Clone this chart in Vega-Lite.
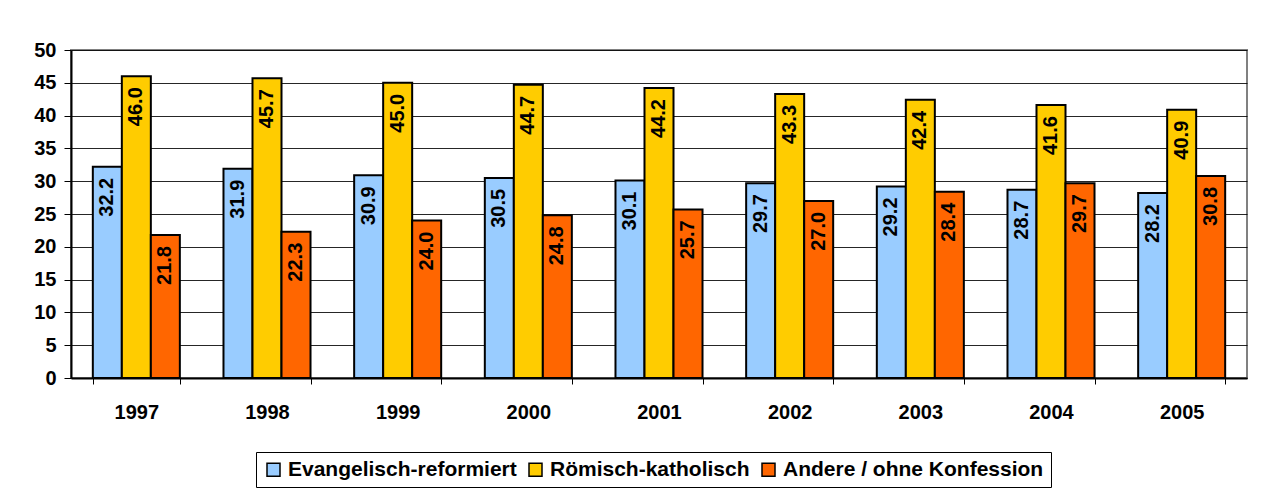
{
  "$schema": "https://vega.github.io/schema/vega-lite/v6.json",
  "width": 1176,
  "height": 328,
  "autosize": "none",
  "padding": {"left": 71, "top": 50, "right": 18, "bottom": 111},
  "background": "white",
  "data": {
    "values": [
      {"Jahr": "1997", "Gruppe": "Evangelisch-reformiert", "Wert": 32.2},
      {"Jahr": "1997", "Gruppe": "Römisch-katholisch", "Wert": 46.0},
      {"Jahr": "1997", "Gruppe": "Andere / ohne Konfession", "Wert": 21.8},
      {"Jahr": "1998", "Gruppe": "Evangelisch-reformiert", "Wert": 31.9},
      {"Jahr": "1998", "Gruppe": "Römisch-katholisch", "Wert": 45.7},
      {"Jahr": "1998", "Gruppe": "Andere / ohne Konfession", "Wert": 22.3},
      {"Jahr": "1999", "Gruppe": "Evangelisch-reformiert", "Wert": 30.9},
      {"Jahr": "1999", "Gruppe": "Römisch-katholisch", "Wert": 45.0},
      {"Jahr": "1999", "Gruppe": "Andere / ohne Konfession", "Wert": 24.0},
      {"Jahr": "2000", "Gruppe": "Evangelisch-reformiert", "Wert": 30.5},
      {"Jahr": "2000", "Gruppe": "Römisch-katholisch", "Wert": 44.7},
      {"Jahr": "2000", "Gruppe": "Andere / ohne Konfession", "Wert": 24.8},
      {"Jahr": "2001", "Gruppe": "Evangelisch-reformiert", "Wert": 30.1},
      {"Jahr": "2001", "Gruppe": "Römisch-katholisch", "Wert": 44.2},
      {"Jahr": "2001", "Gruppe": "Andere / ohne Konfession", "Wert": 25.7},
      {"Jahr": "2002", "Gruppe": "Evangelisch-reformiert", "Wert": 29.7},
      {"Jahr": "2002", "Gruppe": "Römisch-katholisch", "Wert": 43.3},
      {"Jahr": "2002", "Gruppe": "Andere / ohne Konfession", "Wert": 27.0},
      {"Jahr": "2003", "Gruppe": "Evangelisch-reformiert", "Wert": 29.2},
      {"Jahr": "2003", "Gruppe": "Römisch-katholisch", "Wert": 42.4},
      {"Jahr": "2003", "Gruppe": "Andere / ohne Konfession", "Wert": 28.4},
      {"Jahr": "2004", "Gruppe": "Evangelisch-reformiert", "Wert": 28.7},
      {"Jahr": "2004", "Gruppe": "Römisch-katholisch", "Wert": 41.6},
      {"Jahr": "2004", "Gruppe": "Andere / ohne Konfession", "Wert": 29.7},
      {"Jahr": "2005", "Gruppe": "Evangelisch-reformiert", "Wert": 28.2},
      {"Jahr": "2005", "Gruppe": "Römisch-katholisch", "Wert": 40.9},
      {"Jahr": "2005", "Gruppe": "Andere / ohne Konfession", "Wert": 30.8}
    ]
  },
  "encoding": {
    "x": {
      "field": "Jahr",
      "type": "nominal",
      "scale": {"paddingInner": 0.334, "paddingOuter": 0.167},
      "axis": {
        "title": null,
        "labelAngle": 0,
        "tickBand": "extent",
        "tickSize": 6,
        "tickColor": "black",
        "domainColor": "black",
        "domainWidth": 2,
        "labelPadding": 18,
        "labelFont": "Liberation Sans",
        "labelFontWeight": "bold",
        "labelFontSize": 20,
        "labelColor": "black",
        "grid": false
      }
    },
    "xOffset": {
      "field": "Gruppe",
      "type": "nominal",
      "sort": ["Evangelisch-reformiert", "Römisch-katholisch", "Andere / ohne Konfession"],
      "scale": {"paddingInner": 0, "paddingOuter": 0}
    },
    "y": {
      "field": "Wert",
      "type": "quantitative",
      "scale": {"domain": [0, 50]},
      "axis": {
        "title": null,
        "values": [0, 5, 10, 15, 20, 25, 30, 35, 40, 45, 50],
        "grid": true,
        "gridColor": "black",
        "gridWidth": 1,
        "gridOpacity": 0.85,
        "domainColor": "black",
        "domainWidth": 2,
        "tickColor": "black",
        "tickSize": 7,
        "labelPadding": 8,
        "labelFont": "Liberation Sans",
        "labelFontWeight": "bold",
        "labelFontSize": 20,
        "labelColor": "black"
      }
    }
  },
  "layer": [
    {
      "mark": {"type": "bar", "stroke": "black", "strokeWidth": 2},
      "encoding": {
        "color": {
          "field": "Gruppe",
          "type": "nominal",
          "scale": {
            "domain": ["Evangelisch-reformiert", "Römisch-katholisch", "Andere / ohne Konfession"],
            "range": ["#99CCFF", "#FFCC00", "#FF6600"]
          },
          "legend": {
            "title": null,
            "orient": "none",
            "direction": "horizontal",
            "legendX": 185,
            "legendY": 402,
            "strokeColor": "black",
            "fillColor": "white",
            "padding": 7,
            "symbolType": "square",
            "symbolSize": 169,
            "symbolStrokeColor": "black",
            "symbolStrokeWidth": 1.5,
            "symbolOpacity": 1,
            "labelFont": "Liberation Sans",
            "labelFontWeight": "bold",
            "labelFontSize": 21,
            "labelColor": "black",
            "labelLimit": 400,
            "labelOffset": 4,
            "columnPadding": 8
          }
        }
      }
    },
    {
      "mark": {
        "type": "text",
        "angle": 270,
        "align": "right",
        "baseline": "middle",
        "dx": -11,
        "font": "Liberation Sans",
        "fontWeight": "bold",
        "fontSize": 20,
        "color": "black"
      },
      "encoding": {
        "text": {"field": "Wert", "type": "quantitative", "format": ".1f"}
      }
    }
  ],
  "config": {
    "view": {"stroke": "#808080", "strokeWidth": 2}
  }
}
